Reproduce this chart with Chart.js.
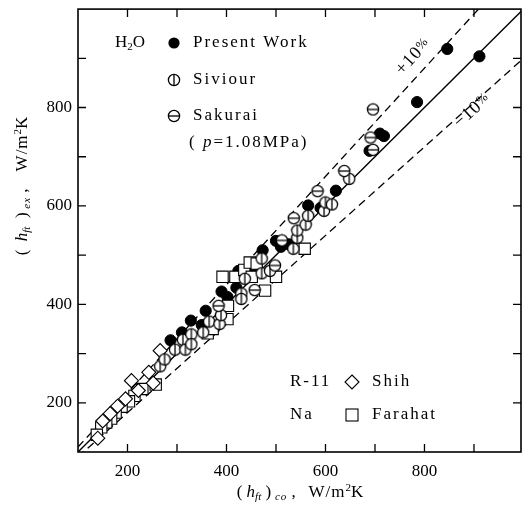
<!DOCTYPE html>
<html>
<head>
<meta charset="utf-8">
<script src="https://cdn.jsdelivr.net/npm/chart.js@4/dist/chart.umd.min.js"></script>
<style>
  html, body { margin: 0; background: #fff; }
</style>
</head>
<body>
<canvas id="chart" width="531" height="506"></canvas>
<script>
// ---- data, [h_co, h_ex] in W/m2K ----
const presentWork = [[287,327],[310,343],[328,367],[350,358],[358,387],[390,426],[402,415],[420,434],
  [424,468],[452,471],[473,510],[500,529],[510,517],[526,522],[565,601],[590,596],[621,631],
  [689,712],[710,747],[718,742],[785,811],[846,919],[911,904]];
const siviour = [[266,274],[275,288],[296,308],[312,328],[317,308],[329,339],[329,319],[353,343],
  [365,365],[386,360],[389,378],[430,422],[430,411],[437,452],[471,463],[471,493],[488,468],
  [535,513],[543,535],[543,550],[560,562],[565,580],[597,590],[600,607],[613,603],[648,655]];
const sakurai = [[384,397],[457,429],[498,479],[512,530],[536,575],[584,630],[638,671],
  [691,739],[696,714],[696,796]];
const shih = [[266,306],[208,245],[243,262],[252,240],[222,225],[196,208],[180,193],
  [165,178],[150,163],[140,128]];
const farahat = [[257,237],[230,228],[214,214],[203,203],[188,192],[176,180],[167,168],
  [157,160],[147,150],[138,135],[362,341],[372,350],[402,370],[403,397],[392,456],[418,456],
  [436,470],[447,485],[451,456],[461,483],[478,428],[500,456],[558,513]];

// reference lines y = k * x
const lineEnds = [100, 1000];
const ratioSolid = 1.0;
const ratioPlus = 1.1;
const ratioMinus = 0.9;

const tickValues = [100, 200, 300, 400, 500, 600, 700, 800, 900];
const labelledTicks = [200, 400, 600, 800];

const SERIF = "'Liberation Serif', 'DejaVu Serif', serif";

function pts(arr) { return arr.map(p => ({ x: p[0], y: p[1] })); }
function ratioLine(k) { return lineEnds.map(x => ({ x: x, y: k * x })); }

// circle with a bar: vertical (Siviour) or horizontal (Sakurai)
function barCircle(vertical) {
  const c = document.createElement('canvas');
  c.width = 14; c.height = 14;
  const g = c.getContext('2d');
  g.beginPath();
  g.arc(7, 7, 5.6, 0, Math.PI * 2);
  g.fillStyle = '#fff';
  g.fill();
  g.lineWidth = 1.3;
  g.strokeStyle = '#000';
  g.stroke();
  g.beginPath();
  if (vertical) { g.moveTo(7, 1.4); g.lineTo(7, 12.6); }
  else { g.moveTo(1.4, 7); g.lineTo(12.6, 7); }
  g.stroke();
  return c;
}
const sivStyle = barCircle(true);
const sakStyle = barCircle(false);

// draws a run of text pieces with their own fonts / offsets
function richWidth(ctx, parts) {
  let w = 0;
  parts.forEach(p => { ctx.font = p.f; ctx.letterSpacing = (p.ls || 0) + 'px'; w += ctx.measureText(p.t).width; });
  return w;
}
function drawRich(ctx, parts, x, y, align) {
  let cx = x;
  if (align === 'center') cx = x - richWidth(ctx, parts) / 2;
  parts.forEach(p => {
    ctx.font = p.f;
    ctx.letterSpacing = (p.ls || 0) + 'px';
    ctx.fillText(p.t, cx, y + (p.dy || 0));
    cx += ctx.measureText(p.t).width;
  });
  ctx.letterSpacing = '0px';
}

const decorPlugin = {
  id: 'decor',
  afterDraw(chart) {
    const ctx = chart.ctx;
    const a = chart.chartArea;
    const xs = chart.scales.x, ys = chart.scales.y;
    ctx.save();
    ctx.strokeStyle = '#000';
    ctx.fillStyle = '#000';

    // frame
    ctx.lineWidth = 1.6;
    ctx.strokeRect(a.left, a.top, a.right - a.left, a.bottom - a.top);

    // inward ticks on all four sides
    ctx.lineWidth = 1.3;
    ctx.beginPath();
    tickValues.forEach(v => {
      const px = xs.getPixelForValue(v);
      if (px > a.left + 2 && px < a.right - 2) {
        ctx.moveTo(px, a.bottom); ctx.lineTo(px, a.bottom - 8);
        ctx.moveTo(px, a.top); ctx.lineTo(px, a.top + 8);
      }
      const py = ys.getPixelForValue(v);
      if (py > a.top + 2 && py < a.bottom - 2) {
        ctx.moveTo(a.left, py); ctx.lineTo(a.left + 8, py);
        ctx.moveTo(a.right, py); ctx.lineTo(a.right - 8, py);
      }
    });
    ctx.stroke();

    ctx.textBaseline = 'middle';
    ctx.textAlign = 'left';
    const big = '17px ' + SERIF;
    const sub = '11px ' + SERIF;

    // upper legend (H2O)
    drawRich(ctx, [{ t: 'H', f: big }, { t: '2', f: sub, dy: 4 }, { t: 'O', f: big }], 115, 43);
    ctx.beginPath();
    ctx.arc(174, 43, 5.6, 0, Math.PI * 2);
    ctx.fill();
    drawRich(ctx, [{ t: 'Present Work', f: big, ls: 2 }], 193, 43);
    ctx.drawImage(sivStyle, 167, 73);
    drawRich(ctx, [{ t: 'Siviour', f: big, ls: 2 }], 193, 80);
    ctx.drawImage(sakStyle, 167, 109);
    drawRich(ctx, [{ t: 'Sakurai', f: big, ls: 2 }], 193, 116);
    drawRich(ctx, [{ t: '( ', f: big, ls: 2 }, { t: 'p', f: 'italic ' + big, ls: 2 },
      { t: '=1.08MPa)', f: big, ls: 2 }], 189, 143);

    // lower legend (R-11, Na)
    drawRich(ctx, [{ t: 'R-11', f: big, ls: 2 }], 290, 382);
    ctx.lineWidth = 1.1;
    ctx.beginPath();
    ctx.moveTo(352, 375); ctx.lineTo(359, 382); ctx.lineTo(352, 389); ctx.lineTo(345, 382);
    ctx.closePath();
    ctx.stroke();
    drawRich(ctx, [{ t: 'Shih', f: big, ls: 2 }], 372, 382);
    drawRich(ctx, [{ t: 'Na', f: big, ls: 2 }], 290, 415);
    ctx.strokeRect(346, 409, 12, 12);
    drawRich(ctx, [{ t: 'Farahat', f: big, ls: 2 }], 372, 415);

    // +10% / -10% labels along the dashed lines
    const unitY = ys.getPixelForValue(100) - ys.getPixelForValue(200);
    const unitX = xs.getPixelForValue(200) - xs.getPixelForValue(100);
    ctx.save();
    ctx.translate(413, 57);
    ctx.rotate(-Math.atan(ratioPlus * unitY / unitX));
    drawRich(ctx, [{ t: '+10', f: '18px ' + SERIF, ls: 1 }, { t: '%', f: '13px ' + SERIF, dy: -2 }], 0, 0, 'center');
    ctx.restore();
    ctx.save();
    ctx.translate(472, 111);
    ctx.rotate(-Math.atan(ratioMinus * unitY / unitX));
    drawRich(ctx, [{ t: '\u2212', f: '18px ' + SERIF, ls: 1 }, { t: '10', f: '18px ' + SERIF, ls: 1 },
      { t: '%', f: '13px ' + SERIF, dy: -2 }], 0, 0, 'center');
    ctx.restore();

    // axis titles
    const it = 'italic 17px ' + SERIF;
    const its = 'italic 11px ' + SERIF;
    const par = '17px ' + SERIF;
    drawRich(ctx, [{ t: '( ', f: par }, { t: 'h', f: it }, { t: 'ft', f: its, dy: 4 },
      { t: ' )', f: par }, { t: ' co', f: its, ls: 1, dy: 4 }, { t: ' ,   ', f: par },
      { t: 'W/m', f: big, ls: 1 }, { t: '2', f: sub, dy: -5 }, { t: 'K', f: big }], 300, 493, 'center');
    ctx.save();
    ctx.translate(23, 186);
    ctx.rotate(-Math.PI / 2);
    drawRich(ctx, [{ t: '(  ', f: par }, { t: 'h', f: it }, { t: 'ft', f: its, dy: 4 },
      { t: '  )', f: par }, { t: ' ex', f: its, ls: 1, dy: 4 }, { t: ' ,    ', f: par },
      { t: 'W/m', f: big, ls: 1 }, { t: '2', f: sub, dy: -5 }, { t: 'K', f: big }], 0, 0, 'center');
    ctx.restore();

    ctx.restore();
  }
};

function tickCb(v) { return labelledTicks.includes(v) ? String(v) : ''; }

new Chart(document.getElementById('chart'), {
  type: 'scatter',
  data: {
    datasets: [
      { type: 'line', data: ratioLine(ratioSolid), borderColor: '#000', borderWidth: 1.4,
        pointRadius: 0, order: 10 },
      { type: 'line', data: ratioLine(ratioPlus), borderColor: '#000', borderWidth: 1.3,
        borderDash: [8, 5], pointRadius: 0, order: 10 },
      { type: 'line', data: ratioLine(ratioMinus), borderColor: '#000', borderWidth: 1.3,
        borderDash: [8, 5], pointRadius: 0, order: 10 },
      { label: 'Present Work', data: pts(presentWork), pointStyle: 'circle', pointRadius: 5.6,
        backgroundColor: '#000', borderColor: '#000', order: 5 },
      { label: 'Farahat', data: pts(farahat), pointStyle: 'rect', pointRadius: 8,
        backgroundColor: '#fff', borderColor: '#000', borderWidth: 1.1, order: 4 },
      { label: 'Shih', data: pts(shih), pointStyle: 'rectRot', pointRadius: 7,
        backgroundColor: '#fff', borderColor: '#000', borderWidth: 1.1, order: 3 },
      { label: 'Siviour', data: pts(siviour), pointStyle: sivStyle,
        backgroundColor: '#fff', borderColor: '#000', order: 2 },
      { label: 'Sakurai', data: pts(sakurai), pointStyle: sakStyle,
        backgroundColor: '#fff', borderColor: '#000', order: 1 }
    ]
  },
  options: {
    responsive: false,
    animation: false,
    devicePixelRatio: 1,
    layout: { padding: { left: 0, right: 10, top: 1, bottom: 0 } },
    plugins: { legend: { display: false }, tooltip: { enabled: false } },
    scales: {
      x: {
        type: 'linear', min: 100, max: 995,
        grid: { display: false, drawTicks: false },
        border: { display: false },
        afterFit: s => { s.height = 54; s.paddingLeft = 0; s.paddingRight = 0; },
        afterBuildTicks: s => { s.ticks = tickValues.map(v => ({ value: v })); },
        ticks: { callback: tickCb, color: '#000', padding: 9, maxRotation: 0, autoSkip: false,
          font: { family: SERIF, size: 17 } }
      },
      y: {
        type: 'linear', min: 100, max: 1000,
        grid: { display: false, drawTicks: false },
        border: { display: false },
        afterFit: s => { s.width = 78; s.paddingTop = 0; s.paddingBottom = 0; },
        afterBuildTicks: s => { s.ticks = tickValues.map(v => ({ value: v })); },
        ticks: { callback: tickCb, color: '#000', padding: 6, autoSkip: false,
          font: { family: SERIF, size: 17, lineHeight: 0.5 } }
      }
    }
  },
  plugins: [decorPlugin]
});
</script>
</body>
</html>
